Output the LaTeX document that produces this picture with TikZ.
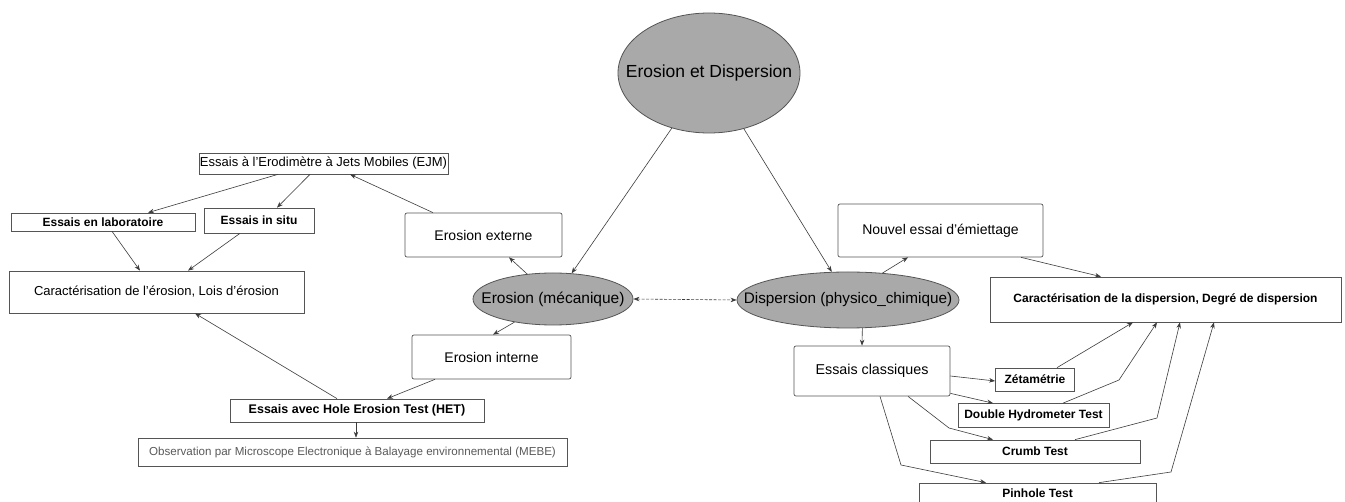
\documentclass[tikz,border=0pt]{standalone}
\usepackage{fontspec}
\setmainfont{Liberation Sans}
\usetikzlibrary{arrows.meta,shapes.geometric,calc}
\definecolor{ellfill}{RGB}{169,169,169}
\definecolor{edge}{RGB}{85,85,85}
\definecolor{wire}{RGB}{60,60,60}
\definecolor{greytext}{RGB}{90,90,90}
\begin{document}
\begin{tikzpicture}[x=1pt,y=-1pt,
  ell/.style={ellipse,draw=edge,fill=ellfill,line width=0.8pt,inner sep=0pt},
  box/.style={rectangle,draw=edge,fill=white,line width=0.7pt,inner sep=0pt,align=center},
  rbox/.style={box,rounded corners=2pt},
  bt/.style={font=\fontsize{12}{14}\selectfont\bfseries},
  rt/.style={font=\fontsize{13}{15}\selectfont},
  arr/.style={draw=wire,line width=0.6pt,-{Stealth[length=6pt,width=4.5pt]}}
]
\clip (0,0) rectangle (1345,502);
\fill[white] (0,0) rectangle (1345,502);

% ellipses
\node[ell,minimum width=182pt,minimum height=120pt,font=\fontsize{17.5}{20}\selectfont] (top) at (709,73) {\makebox[0pt]{Erosion et Dispersion}};
\node[ell,minimum width=160pt,minimum height=52pt,font=\fontsize{15.5}{18}\selectfont] (ero) at (553,299) {\makebox[0pt]{Erosion (mécanique)}};
\node[ell,minimum width=222pt,minimum height=56pt,font=\fontsize{15.3}{18}\selectfont] (disp) at (848,300) {\makebox[0pt]{Dispersion (physico\_chimique)}};

% left boxes
\node[box,rt,minimum width=249pt,minimum height=21pt] (ejm) at (323.5,163.5) {Essais à l'Erodimètre à Jets Mobiles (EJM)};
\node[box,bt,minimum width=184pt,minimum height=18pt] (labo) at (103,222) {Essais en laboratoire};
\node[box,bt,minimum width=110pt,minimum height=25pt] (situ) at (259,220.5) {Essais in situ};
\node[box,rt,minimum width=295pt,minimum height=42pt] (cero) at (156.5,292) {Caractérisation de l'érosion, Lois d'érosion};
\node[rbox,font=\fontsize{14}{16}\selectfont,minimum width=157pt,minimum height=44pt] (ext) at (483.5,235) {Erosion externe};
\node[rbox,font=\fontsize{14}{16}\selectfont,minimum width=159pt,minimum height=44pt] (int) at (491.5,357) {Erosion interne};
\node[box,font=\fontsize{12.5}{14}\selectfont\bfseries,minimum width=254pt,minimum height=23pt] (het) at (357,410.5) {Essais avec Hole Erosion Test (HET)};
\node[box,font=\fontsize{11.6}{14}\selectfont,text=greytext,minimum width=429pt,minimum height=28pt] (mebe) at (352.5,452) {Observation par Microscope Electronique à Balayage environnemental (MEBE)};

% right boxes
\node[rbox,font=\fontsize{14}{16}\selectfont,minimum width=205pt,minimum height=53pt] (nouv) at (940.5,230.5) {Nouvel essai d'émiettage};
\node[box,bt,minimum width=351pt,minimum height=45pt] (cdisp) at (1165.5,299.5) {Caractérisation de la dispersion, Degré de dispersion};
\node[rbox,font=\fontsize{14.3}{16}\selectfont,minimum width=156pt,minimum height=50pt] (ec) at (872,371) {Essais classiques};
\node[box,bt,minimum width=79pt,minimum height=23pt] (zet) at (1035,379.5) {Zétamétrie};
\node[box,bt,minimum width=151pt,minimum height=24pt] (dht) at (1033.5,415.5) {Double Hydrometer Test};
\node[box,bt,minimum width=210pt,minimum height=23pt] (crumb) at (1035,451.5) {Crumb Test};
\node[box,bt,minimum width=237pt,minimum height=20pt] (pin) at (1037.5,493) {Pinhole Test};

% bend points
\coordinate (b1) at (949,428);
\coordinate (b2) at (901,465);
\coordinate (b3) at (1119,380);
\coordinate (b4) at (1157,418);
\coordinate (b5) at (1171,472);

% connectors, left
\draw[arr] (top.236) -- (ero.54);
\draw[arr] (top.302) -- (disp.120);
\draw[wire,line width=0.6pt,dashed,dash pattern=on 3pt off 1.5pt,{Stealth[length=6pt,width=4.5pt]}-{Stealth[length=6pt,width=4.5pt]}] (ero.east) -- (disp.west);
\draw[arr] (ero.136) -- ([xshift=25.5pt]ext.south);
\draw[arr] (ero.211) -- ([xshift=1.5pt]int.north);
\draw[arr] ([xshift=-50.5pt]ext.north) -- ([xshift=26.5pt]ejm.south);
\draw[arr] ([xshift=-45.5pt]ejm.south) -- ([xshift=45pt]labo.north);
\draw[arr] ([xshift=-13.5pt]ejm.south) -- ([xshift=18pt]situ.north);
\draw[arr] ([xshift=9pt]labo.south) -- ([xshift=-16.5pt]cero.north);
\draw[arr] ([xshift=-19pt]situ.south) -- ([xshift=31.5pt]cero.north);
\draw[arr] ([xshift=-20pt]het.north) -- ([xshift=38.5pt]cero.south);
\draw[arr] ([xshift=-56.5pt]int.south) -- ([xshift=30pt]het.north);
\draw[arr] ([xshift=-1pt]het.south) -- ([xshift=3.5pt]mebe.north);

% connectors, right
\draw[arr] (disp.38) -- ([xshift=-32.5pt]nouv.south);
\draw[arr] ([xshift=80.5pt]nouv.south) -- ([xshift=-64.5pt]cdisp.north);
\draw[arr] (disp.297) -- ([xshift=-10pt]ec.north);
\draw[arr] ([yshift=-5pt]ec.east) -- ([yshift=-1.5pt]zet.west);
\draw[arr] ([yshift=3pt]ec.south east) -- ([xshift=-40.5pt]dht.north);
\draw[arr] ([xshift=36pt]ec.south) -- (b1) -- ([xshift=-42pt]crumb.north);
\draw[arr] ([xshift=8pt]ec.south) -- (b2) -- ([xshift=-51.5pt]pin.north);
\draw[arr] ([xshift=22pt]zet.north) -- ([xshift=-32.5pt]cdisp.south);
\draw[arr] ([xshift=29.5pt]dht.north) -- (b3) -- ([xshift=-8.5pt]cdisp.south);
\draw[arr] ([xshift=40pt]crumb.north) -- (b4) -- ([xshift=14.5pt]cdisp.south);
\draw[arr] ([xshift=61.5pt]pin.north) -- (b5) -- ([xshift=48.5pt]cdisp.south);
\end{tikzpicture}
\end{document}
